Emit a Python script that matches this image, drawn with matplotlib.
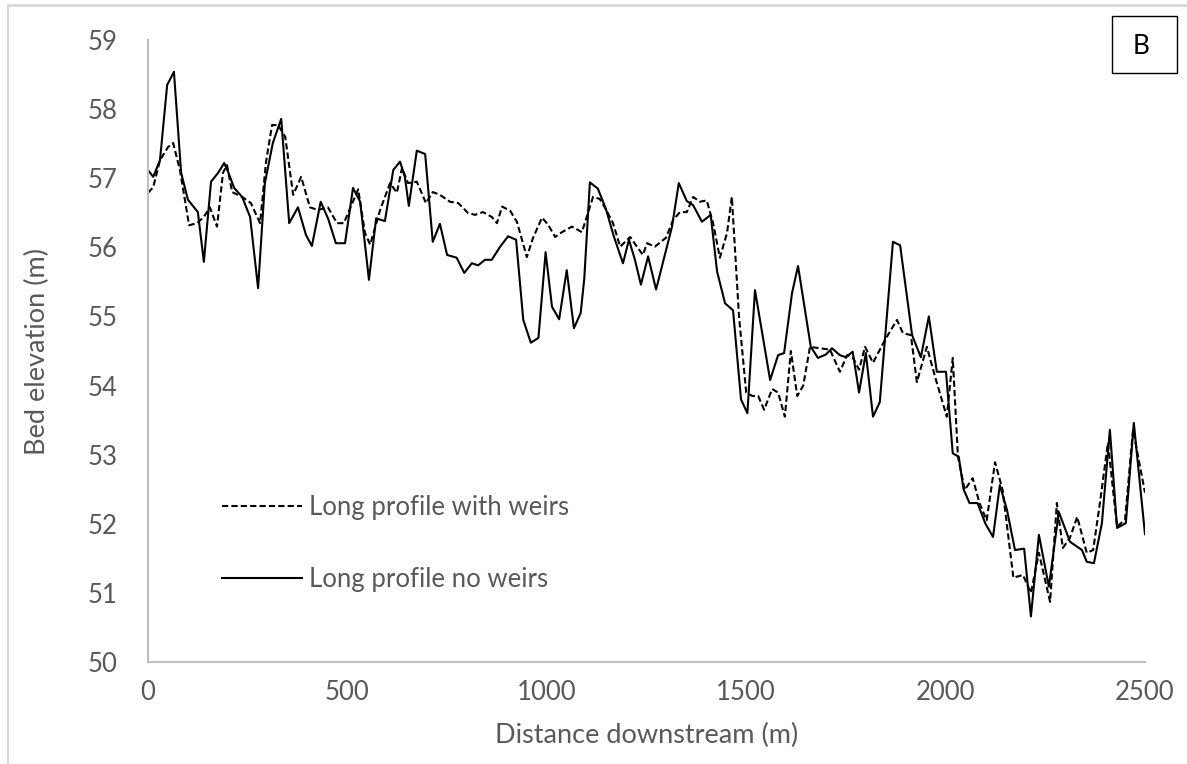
import matplotlib
matplotlib.use("Agg")
import matplotlib.pyplot as plt
from matplotlib.patches import Rectangle
from matplotlib.lines import Line2D

plt.rcParams['font.family'] = ['Lato', 'DejaVu Sans']

# long profile with weirs (dashed)
dist_weirs = [0, 13, 30, 50, 63, 80, 103, 123, 140, 155, 173, 188, 198, 211, 236, 258, 281, 296,
              311, 326, 344, 364, 384, 406, 426, 451, 474, 491, 527, 544, 557, 582, 607, 624, 637,
              652, 674, 697, 714, 732, 757, 778, 802, 820, 840, 862, 875, 888, 908, 925, 950, 965,
              988, 1003, 1021, 1038, 1063, 1088, 1100, 1116, 1133, 1150, 1166, 1184, 1209, 1226,
              1241, 1251, 1271, 1299, 1317, 1334, 1351, 1367, 1384, 1401, 1417, 1434, 1452, 1464,
              1482, 1500, 1515, 1530, 1545, 1565, 1580, 1597, 1612, 1628, 1643, 1660, 1685, 1710,
              1735, 1753, 1768, 1783, 1798, 1818, 1848, 1878, 1893, 1913, 1928, 1953, 1975, 2003,
              2018, 2031, 2048, 2068, 2085, 2103, 2124, 2143, 2170, 2194, 2214, 2234, 2262, 2279,
              2294, 2312, 2330, 2354, 2370, 2387, 2407, 2430, 2450, 2470, 2500]
elev_weirs = [56.79, 56.87, 57.26, 57.45, 57.51, 57.12, 56.32, 56.35, 56.44, 56.58, 56.30, 57.08,
              57.19, 56.80, 56.73, 56.64, 56.35, 57.24, 57.77, 57.77, 57.60, 56.76, 57.02, 56.58,
              56.54, 56.58, 56.35, 56.35, 56.84, 56.21, 56.04, 56.54, 56.93, 56.79, 57.15, 56.93,
              56.95, 56.64, 56.80, 56.76, 56.66, 56.64, 56.50, 56.47, 56.51, 56.44, 56.35, 56.59,
              56.53, 56.37, 55.86, 56.13, 56.43, 56.33, 56.15, 56.22, 56.30, 56.22, 56.44, 56.73,
              56.70, 56.53, 56.35, 56.01, 56.15, 56.01, 55.89, 56.06, 56.01, 56.14, 56.40, 56.51,
              56.51, 56.73, 56.66, 56.68, 56.35, 55.85, 56.21, 56.73, 55.00, 53.90, 53.85, 53.85,
              53.65, 53.95, 53.90, 53.55, 54.50, 53.85, 54.00, 54.56, 54.54, 54.52, 54.20, 54.44,
              54.40, 54.23, 54.56, 54.33, 54.66, 54.95, 54.76, 54.73, 54.05, 54.56, 54.10, 53.55,
              54.40, 52.97, 52.49, 52.66, 52.30, 52.05, 52.89, 52.49, 51.22, 51.26, 51.00, 51.58,
              50.87, 52.30, 51.65, 51.80, 52.10, 51.58, 51.62, 52.30, 53.17, 51.96, 52.06, 53.36,
              52.45]

# long profile no weirs (solid)
dist_noweirs = [0, 13, 30, 48, 65, 83, 100, 125, 140, 158, 176, 191, 201, 216, 236, 256, 276, 293,
                313, 334, 354, 376, 396, 411, 433, 452, 471, 494, 514, 532, 554, 572, 594, 615, 632,
                644, 654, 674, 695, 714, 732, 750, 774, 793, 812, 828, 845, 862, 883, 903, 923, 941,
                960, 979, 997, 1013, 1031, 1050, 1068, 1085, 1094, 1108, 1128, 1148, 1168, 1191,
                1206, 1221, 1236, 1254, 1274, 1296, 1314, 1331, 1351, 1367, 1389, 1411, 1427, 1447,
                1467, 1487, 1503, 1522, 1560, 1580, 1595, 1615, 1630, 1662, 1680, 1700, 1715, 1735,
                1750, 1767, 1783, 1800, 1818, 1835, 1868, 1886, 1916, 1938, 1958, 1978, 2001, 2018,
                2033, 2045, 2060, 2080, 2100, 2119, 2136, 2154, 2174, 2197, 2214, 2234, 2259, 2284,
                2312, 2342, 2354, 2372, 2392, 2412, 2430, 2452, 2472, 2500]
elev_noweirs = [57.12, 57.02, 57.26, 58.35, 58.54, 57.08, 56.69, 56.51, 55.79, 56.95, 57.08, 57.22,
                57.09, 56.86, 56.73, 56.44, 55.41, 56.93, 57.51, 57.86, 56.35, 56.58, 56.18, 56.02,
                56.66, 56.41, 56.06, 56.06, 56.86, 56.66, 55.53, 56.42, 56.38, 57.12, 57.24, 57.02,
                56.60, 57.40, 57.35, 56.08, 56.34, 55.89, 55.85, 55.63, 55.77, 55.74, 55.82, 55.82,
                56.01, 56.16, 56.11, 54.95, 54.62, 54.69, 55.93, 55.14, 54.96, 55.67, 54.83, 55.05,
                55.55, 56.94, 56.85, 56.56, 56.16, 55.77, 56.11, 55.82, 55.46, 55.87, 55.39, 55.89,
                56.30, 56.93, 56.67, 56.61, 56.37, 56.47, 55.65, 55.19, 55.09, 53.80, 53.60, 55.38,
                54.08, 54.44, 54.47, 55.34, 55.73, 54.56, 54.40, 54.45, 54.54, 54.44, 54.41, 54.49,
                53.90, 54.47, 53.55, 53.76, 56.08, 56.03, 54.73, 54.41, 55.00, 54.20, 54.20, 53.02,
                52.97, 52.50, 52.30, 52.30, 52.00, 51.81, 52.56, 52.20, 51.62, 51.64, 50.66, 51.84,
                51.09, 52.17, 51.74, 51.62, 51.45, 51.43, 52.01, 53.36, 51.94, 52.01, 53.46, 51.85]

label_weirs = 'Long profile with weirs'
label_noweirs = 'Long profile no weirs'
x_ticks = [0, 500, 1000, 1500, 2000, 2500]
y_ticks = [50, 51, 52, 53, 54, 55, 56, 57, 58, 59]

grey_text = '#595959'
axis_grey = '#bfbfbf'
dash = (0, (3, 1.5))

fig = plt.figure(figsize=(11.87, 7.64), dpi=100)
ax = fig.add_axes([0.1247, 0.1335, 0.8399, 0.8141])

ax.plot(dist_weirs, elev_weirs, color='black', linewidth=1.5, linestyle=dash)
ax.plot(dist_noweirs, elev_noweirs, color='black', linewidth=1.5)

ax.set_xlim(0, 2500)
ax.set_ylim(50, 59)
ax.set_xticks(x_ticks)
ax.set_yticks(y_ticks)
ax.tick_params(length=0, labelsize=18.5, colors=grey_text)
ax.tick_params(axis='y', pad=22)
ax.tick_params(axis='x', pad=13)
for side in ['top', 'right']:
    ax.spines[side].set_visible(False)
for side in ['left', 'bottom']:
    ax.spines[side].set_color(axis_grey)
    ax.spines[side].set_linewidth(1.5)

ax.set_xlabel('Distance downstream (m)', fontsize=19.5, color=grey_text, labelpad=13)
ax.set_ylabel('Bed elevation (m)', fontsize=19.5, color=grey_text, labelpad=27)

# legend sits inside the plot, lower left
leg = ax.legend(handles=[Line2D([0], [0], color='black', lw=1.5, linestyle=dash),
                         Line2D([0], [0], color='black', lw=1.5)],
                labels=[label_weirs, label_noweirs],
                loc='upper left', bbox_to_anchor=(0.051, 0.306), frameon=False,
                fontsize=18.5, handlelength=3.1, handletextpad=0.3, labelspacing=1.84)
for t in leg.get_texts():
    t.set_color(grey_text)

# panel letter box
fig.patches.append(Rectangle((0.9368, 0.9045), 0.0548, 0.0746, transform=fig.transFigure,
                             facecolor='white', edgecolor='black', linewidth=1.0))
fig.text(0.9612, 0.9395, 'B', ha='center', va='center', fontsize=19, color='black')

# grey frame lines on top and left edge of the picture
fig.add_artist(Line2D([0.007, 1.0], [0.9935, 0.9935], transform=fig.transFigure,
                      color='#d9d9d9', linewidth=2.2))
fig.add_artist(Line2D([0.007, 0.007], [0.0, 0.9935], transform=fig.transFigure,
                      color='#d9d9d9', linewidth=1.5))

fig.savefig('out.png', dpi=100, facecolor='white')
